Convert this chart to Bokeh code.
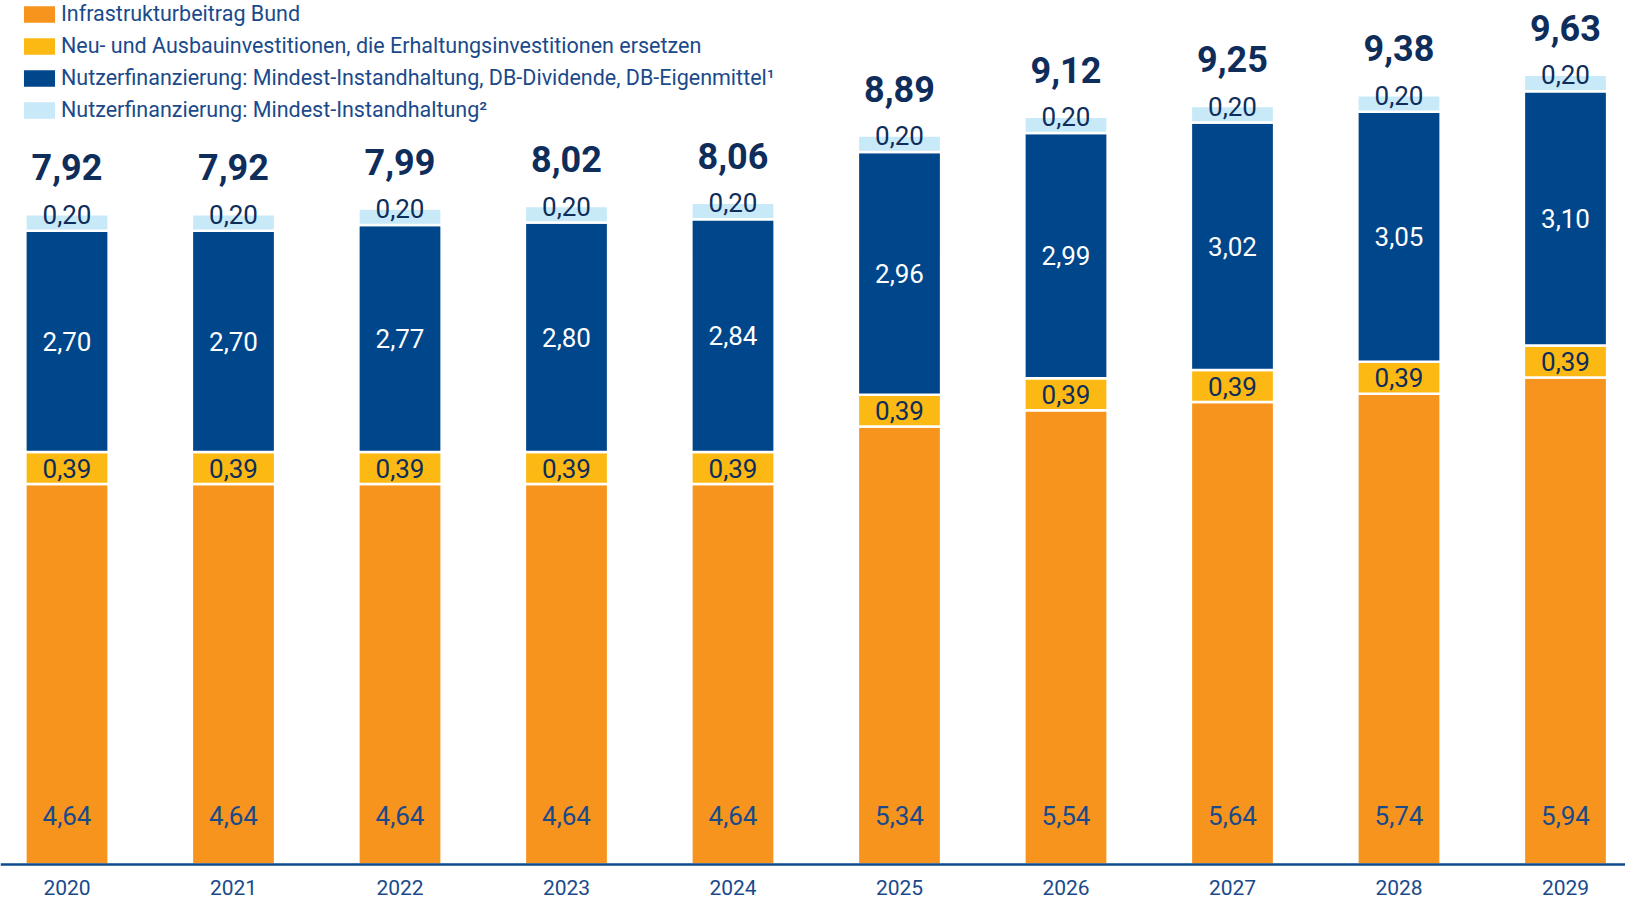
import numpy as np
from bokeh.plotting import figure
from bokeh.models import Range1d, ColumnDataSource, Span
from bokeh.core.properties import value
from bokeh.embed import file_html
from bokeh.resources import INLINE

# ---- data ----
years = [2020, 2021, 2022, 2023, 2024, 2025, 2026, 2027, 2028, 2029]
year_labels = ["2020", "2021", "2022", "2023", "2024", "2025", "2026", "2027", "2028", "2029"]
infrastrukturbeitrag = [4.64, 4.64, 4.64, 4.64, 4.64, 5.34, 5.54, 5.64, 5.74, 5.94]
neu_ausbau = [0.39, 0.39, 0.39, 0.39, 0.39, 0.39, 0.39, 0.39, 0.39, 0.39]
nutzer_dividende = [2.70, 2.70, 2.77, 2.80, 2.84, 2.96, 2.99, 3.02, 3.05, 3.10]
nutzer_instand = [0.20, 0.20, 0.20, 0.20, 0.20, 0.20, 0.20, 0.20, 0.20, 0.20]
totals = [7.92, 7.92, 7.99, 8.02, 8.06, 8.89, 9.12, 9.25, 9.38, 9.63]
series_names = [
    "Infrastrukturbeitrag Bund",
    "Neu- und Ausbauinvestitionen, die Erhaltungsinvestitionen ersetzen",
    "Nutzerfinanzierung: Mindest-Instandhaltung, DB-Dividende, DB-Eigenmittel\u00b9",
    "Nutzerfinanzierung: Mindest-Instandhaltung\u00b2",
]
colors = ["#F7941D", "#FDB913", "#00468B", "#C8E9F8"]

FONT = "Roboto"
NAVY = "#0E2D5B"
BLUE_TXT = "#1A4A8A"


def fmt(v):
    return f"{v:.2f}".replace(".", ",")


keys = ["infra", "neu", "div", "inst"]
src = ColumnDataSource(dict(
    year=years, infra=infrastrukturbeitrag, neu=neu_ausbau,
    div=nutzer_dividende, inst=nutzer_instand,
))

W, H = 1625, 900
AXIS_Y = 864.0        # pixel row (from top) of the baseline
PX_PER_UNIT = 82.0
PX_PER_YEAR = 166.5
FIRST_CENTER = 66.5

p = figure(
    width=W, height=H,
    min_border_left=0, min_border_right=0, min_border_top=0, min_border_bottom=0,
    x_range=Range1d(2020 - FIRST_CENTER / PX_PER_YEAR, 2020 + (W - FIRST_CENTER) / PX_PER_YEAR),
    y_range=Range1d(-(H - AXIS_Y) / PX_PER_UNIT, AXIS_Y / PX_PER_UNIT),
    x_axis_location=None, y_axis_location=None,
    output_backend="svg", toolbar_location=None, tools="",
)
p.outline_line_color = None
p.xgrid.visible = False
p.ygrid.visible = False

p.vbar_stack(keys, x="year", width=0.5, color=colors, source=src,
             line_color="white", line_width=2.5, legend_label=series_names)

# baseline (x axis line)
p.add_layout(Span(location=0, dimension="width", line_color="#0E4A8C", line_width=2.5))

# stacked positions
a = np.array(infrastrukturbeitrag)
b = np.array(neu_ausbau)
c = np.array(nutzer_dividende)
d = np.array(nutzer_instand)
top = a + b + c + d

label_kw = dict(text_font=value(FONT), text_font_size="26px", text_align="center", text_baseline="middle")

p.text(x=years, y=[0] * len(years), text=[fmt(v) for v in infrastrukturbeitrag],
       y_offset=-49, text_color=BLUE_TXT, **label_kw)
p.text(x=years, y=list(a + b / 2), text=[fmt(v) for v in neu_ausbau],
       text_color=NAVY, **label_kw)
p.text(x=years, y=list(a + b + c / 2), text=[fmt(v) for v in nutzer_dividende],
       text_color="white", **label_kw)
p.text(x=years, y=list(top), text=[fmt(v) for v in nutzer_instand],
       text_color=NAVY, **label_kw)
p.text(x=years, y=list(top), text=[fmt(v) for v in totals], y_offset=-47,
       text_color=NAVY, text_font=value(FONT), text_font_size="36px",
       text_font_style="bold", text_align="center", text_baseline="middle")

# year labels under the baseline
p.text(x=years, y=[0] * len(years), text=year_labels, y_offset=23,
       text_color=BLUE_TXT, text_font=value(FONT), text_font_size="21px",
       text_align="center", text_baseline="middle")

# legend (location = bottom-left corner, measured from the bottom of the frame)
ROW_H, SPACING, N = 25, 7, 4
LEG_H = N * ROW_H + (N - 1) * SPACING
lg = p.legend[0]
lg.location = (18, H - 1 - LEG_H)
lg.orientation = "vertical"
lg.label_text_font = FONT
lg.label_text_font_size = "21.5px"
lg.label_text_color = BLUE_TXT
lg.glyph_width = 42
lg.glyph_height = 24
lg.label_height = 17
lg.spacing = SPACING
lg.padding = 0
lg.margin = 0
lg.label_standoff = 1
lg.border_line_alpha = 0
lg.background_fill_alpha = 0

open("out.html", "w").write(file_html(p, INLINE))
